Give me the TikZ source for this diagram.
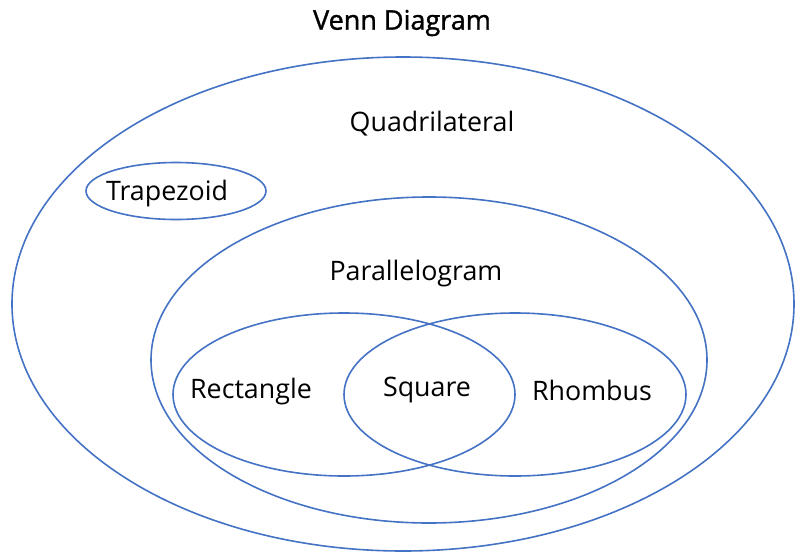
\documentclass[tikz,border=0pt]{standalone}
\usepackage{fontspec}
\setmainfont{Open Sans}
\newfontfamily\titlefont[FakeBold=1.2]{Open Sans}
\usetikzlibrary{shapes.geometric}
\definecolor{vennblue}{HTML}{4472C4}
\tikzset{
  vset/.style={draw=vennblue, line width=1.6pt, ellipse, inner sep=0pt, fill=none},
  lbl/.style={font=\fontsize{26.8}{30}\selectfont, inner sep=0pt, text=black},
}
\begin{document}
\begin{tikzpicture}[x=1pt,y=-1pt]
\useasboundingbox (0,0) rectangle (795,554);
\node[vset, minimum width=782pt, minimum height=494pt] (quad) at (403,304) {};
\node[vset, minimum width=180pt, minimum height=57pt] (trap) at (176,191) {};
\node[vset, minimum width=556pt, minimum height=326pt] (para) at (429,360) {};
\node[vset, minimum width=342pt, minimum height=163pt] (rect) at (344,394.5) {};
\node[vset, minimum width=342pt, minimum height=163pt] (rhom) at (515,394.5) {};
\node[lbl, font=\titlefont\fontsize{27}{30}\selectfont] (title) at (402,23) {Venn Diagram};
\node[lbl] (tq) at (432,124) {Quadrilateral};
\node[lbl] (tt) at (167,194) {Trapezoid};
\node[lbl] (tp) at (416,274) {Parallelogram};
\node[lbl] (tr) at (251,392) {Rectangle};
\node[lbl] (ts) at (427,390) {Square};
\node[lbl] (th) at (592,390) {Rhombus};
\end{tikzpicture}
\end{document}
